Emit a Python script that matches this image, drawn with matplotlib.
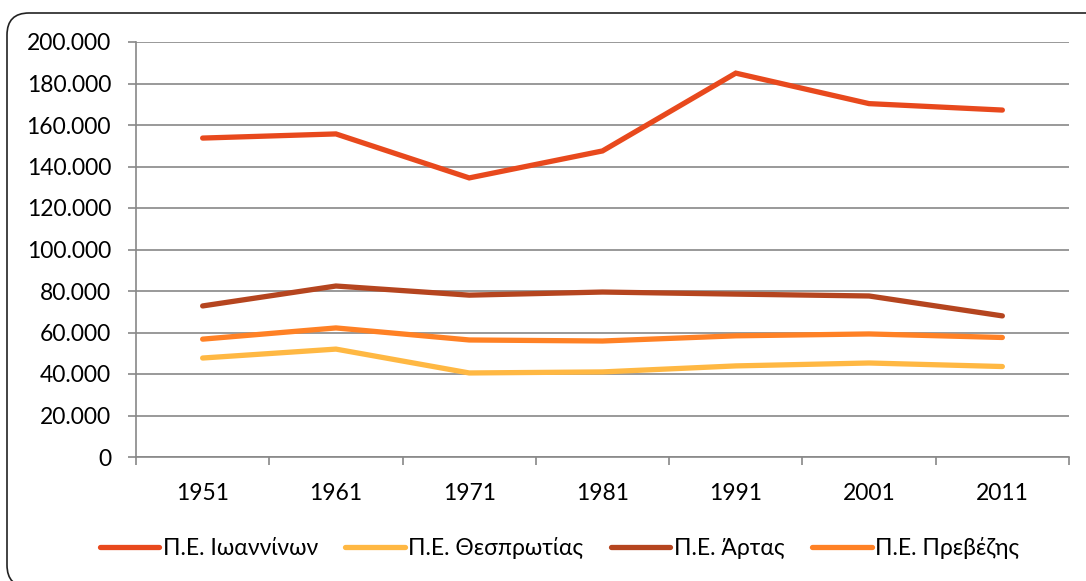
import numpy as np
import matplotlib.pyplot as plt
from matplotlib.patches import FancyBboxPatch
from matplotlib.transforms import IdentityTransform
from matplotlib.ticker import FuncFormatter

years = ['1951', '1961', '1971', '1981', '1991', '2001', '2011']
ioannina = [153700, 155700, 134500, 147500, 185000, 170300, 167200]
thesprotia = [47700, 52000, 40500, 41000, 43900, 45300, 43600]
arta = [72800, 82400, 78000, 79500, 78500, 77600, 68000]
preveza = [56800, 62200, 56400, 55900, 58400, 59300, 57600]

series = [
    ('Π.Ε. Ιωαννίνων', ioannina, '#E8491D'),
    ('Π.Ε. Θεσπρωτίας', thesprotia, '#FFB843'),
    ('Π.Ε. Άρτας', arta, '#B5451F'),
    ('Π.Ε. Πρεβέζης', preveza, '#FF8125'),
]

plt.rcParams['font.family'] = ['Lato', 'DejaVu Sans']

fig = plt.figure(figsize=(10.86, 5.81), dpi=100)
ax = fig.add_axes([136 / 1086, 1 - 457 / 581, 933 / 1086, 415 / 581])

x = np.arange(len(years))
for name, vals, col in series:
    ax.plot(x, vals, color=col, lw=3.8, solid_capstyle='round',
            solid_joinstyle='miter', label=name)

ax.set_xlim(-0.5, len(years) - 0.5)
ax.set_ylim(0, 200000)
ax.set_yticks(np.arange(0, 200001, 20000))
ax.yaxis.set_major_formatter(FuncFormatter(
    lambda v, p: '0' if v == 0 else f'{int(v):,}'.replace(',', '.')))
ax.set_xticks(x)
ax.set_xticklabels(years)
ax.set_xticks(np.arange(-0.5, len(years), 1), minor=True)

ax.grid(axis='y', color='#888888', lw=1.2)
ax.set_axisbelow(True)
for s in ['top', 'right']:
    ax.spines[s].set_visible(False)
for s in ['left', 'bottom']:
    ax.spines[s].set_color('#888888')
    ax.spines[s].set_linewidth(1.2)

ax.tick_params(axis='y', length=6, color='#888888', width=1.2,
               labelsize=16.5, pad=12)
ax.tick_params(axis='x', which='major', length=0, labelsize=16.5, pad=19)
ax.tick_params(axis='x', which='minor', length=6, color='#888888', width=1.2)

fig.legend(loc='center', bbox_to_anchor=(0.515, 0.057), ncol=4, frameon=False,
           fontsize=16.5, handlelength=2.6, handletextpad=0.15,
           columnspacing=1.2)

# outer frame, the right edge runs off the picture
border = FancyBboxPatch((7, -6), 1120, 574,
                        boxstyle='round,pad=0,rounding_size=22',
                        transform=IdentityTransform(), fill=False,
                        edgecolor='#222222', lw=1.2)
fig.patches.append(border)

fig.savefig('out.png', dpi=100)
